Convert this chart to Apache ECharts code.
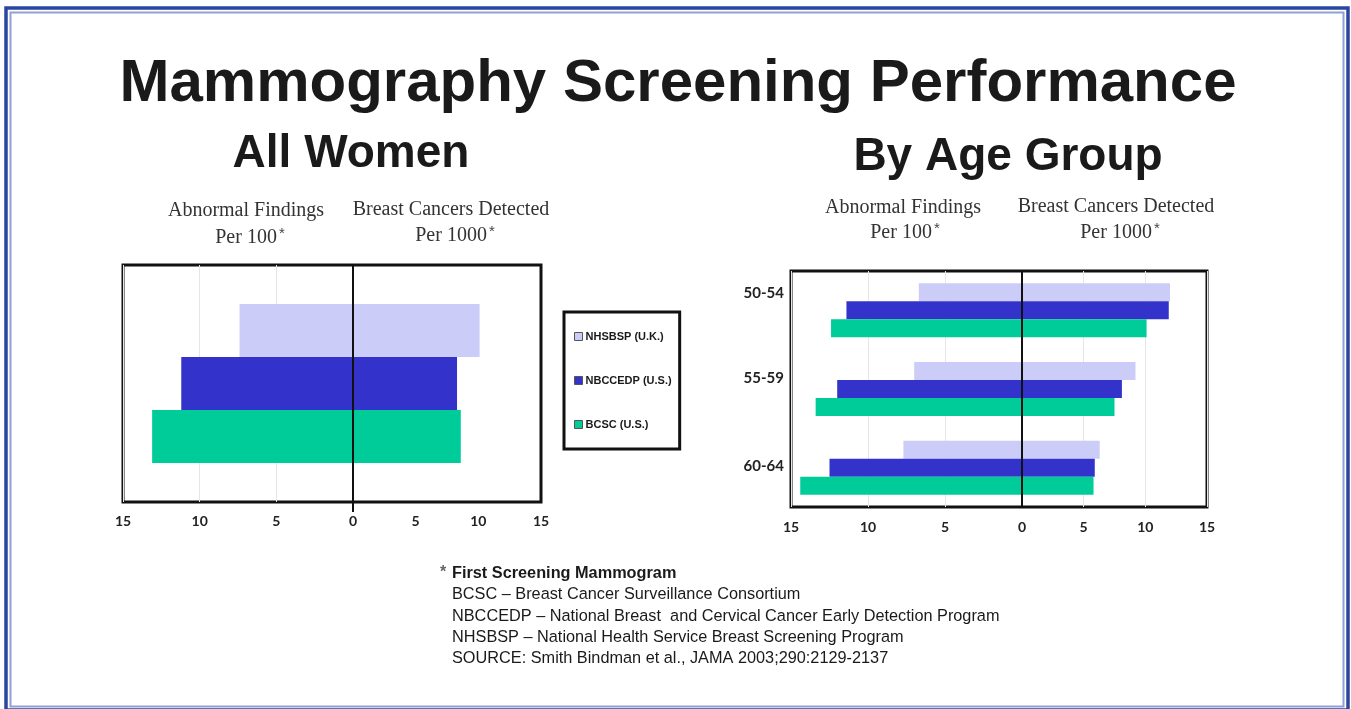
<!DOCTYPE html>
<html>
<head>
<meta charset="utf-8">
<title>Mammography Screening Performance</title>
<script src="https://cdn.jsdelivr.net/npm/echarts@6/dist/echarts.min.js"></script>
<style>
  html, body { margin: 0; padding: 0; background: #fff; }
  #main { width: 1351px; height: 709px; }
</style>
</head>
<body>
<div id="main"></div>
<script>
// data
var seriesNames = ['NHSBSP (U.K.)', 'NBCCEDP (U.S.)', 'BCSC (U.S.)'];
var seriesColors = ['#ccccf8', '#3333cc', '#00cc99'];

// All women: abnormal findings per 100 / cancers detected per 1000
var allAbnormal = [7.4, 11.2, 13.1];
var allCancers = [10.1, 8.3, 8.6];

// By age group, one array per program
var ageGroups = ['50-54', '55-59', '60-64'];
var nhsbspAbnormal = [6.7, 7.0, 7.7];
var nbccedpAbnormal = [11.4, 12.0, 12.5];
var bcscAbnormal = [12.4, 13.4, 14.4];
var nhsbspCancers = [12.0, 9.2, 6.3];
var nbccedpCancers = [11.9, 8.1, 5.9];
var bcscCancers = [10.1, 7.5, 5.8];

var axisMax = 15;
var axisStep = 5;

var footnotes = [
    'BCSC \u2013 Breast Cancer Surveillance Consortium',
    'NBCCEDP \u2013 National Breast  and Cervical Cancer Early Detection Program',
    'NHSBSP \u2013 National Health Service Breast Screening Program',
    'SOURCE: Smith Bindman et al., JAMA 2003;290:2129-2137'
];

var myChart = echarts.init(document.getElementById('main'));

var tickFont = { color: '#222', fontFamily: 'Lato', fontWeight: 'bold', fontSize: 14 };

function valueAxis(grid, inverse, hideZero, margin, zeroTick) {
    return {
        type: 'value', gridIndex: grid, min: 0, max: axisMax, interval: axisStep,
        inverse: inverse,
        axisLine: { show: false },
        axisTick: zeroTick ? { show: true, customValues: [0], length: 10, inside: false,
            lineStyle: { color: '#111', width: 2 } } : { show: false },
        splitLine: { show: true, lineStyle: { color: '#e6e6e6', width: 1 } },
        axisLabel: Object.assign({ margin: margin, formatter: function (v) {
            return (hideZero && v === 0) ? '' : String(v);
        } }, tickFont)
    };
}

function catAxis(grid, data, zeroLine, labels) {
    return {
        type: 'category', gridIndex: grid, data: data, inverse: true, z: 10,
        axisLine: zeroLine ? { show: true, lineStyle: { color: '#111', width: 2 } } : { show: false },
        axisTick: { show: false },
        axisLabel: labels ? {
            margin: 7,
            formatter: function (v, i) { return '{g' + i + '|' + v + '}'; },
            rich: {
                g0: { padding: [0, 0, 34, 0], fontFamily: 'Lato', fontWeight: 'bold', fontSize: 15, color: '#222' },
                g1: { padding: [0, 0, 22, 0], fontFamily: 'Lato', fontWeight: 'bold', fontSize: 15, color: '#222' },
                g2: { padding: [0, 0, 4, 0], fontFamily: 'Lato', fontWeight: 'bold', fontSize: 15, color: '#222' }
            }
        } : { show: false }
    };
}

function bar(idx, data, axisIdx, width) {
    return {
        type: 'bar', name: seriesNames[idx], data: data,
        xAxisIndex: axisIdx, yAxisIndex: axisIdx,
        barWidth: width, barGap: '0%',
        itemStyle: { color: seriesColors[idx] }
    };
}

var series = [];
// all women
for (var i = 0; i < 3; i++) {
    series.push(bar(i, [allAbnormal[i]], 0, 53));
    series.push(bar(i, [allCancers[i]], 1, 53));
}
// by age group
var ageAbn = [nhsbspAbnormal, nbccedpAbnormal, bcscAbnormal];
var ageCan = [nhsbspCancers, nbccedpCancers, bcscCancers];
for (var j = 0; j < 3; j++) {
    series.push(bar(j, ageAbn[j], 2, 18));
    series.push(bar(j, ageCan[j], 3, 18));
}

function header(x, y, txt) {
    return {
        type: 'text', x: x, y: y,
        style: {
            text: txt, align: 'center', verticalAlign: 'middle',
            font: '20px "Liberation Serif", "Times New Roman", serif', fill: '#333',
            rich: { s: { fontSize: 15, padding: [0, 0, 9, 2], fill: '#444',
                fontFamily: 'Liberation Sans' } }
        }
    };
}

var graphics = [
    { type: 'rect', shape: { x: 6, y: 8, width: 1342, height: 702 },
      style: { fill: null, stroke: '#2b46a0', lineWidth: 3.5 } },
    { type: 'rect', shape: { x: 10.5, y: 12.5, width: 1333, height: 694 },
      style: { fill: null, stroke: '#8fa0d6', lineWidth: 2 } },
    { type: 'text', x: 678, y: 84, style: { text: 'Mammography Screening Performance', align: 'center',
      verticalAlign: 'middle', font: 'bold 60px "Liberation Sans", Arial, sans-serif', fill: '#1a1a1a' } },
    { type: 'text', x: 351, y: 154, style: { text: 'All Women', align: 'center',
      verticalAlign: 'middle', font: 'bold 46px "Liberation Sans", Arial, sans-serif', fill: '#1a1a1a' } },
    { type: 'text', x: 1008, y: 157, style: { text: 'By Age Group', align: 'center',
      verticalAlign: 'middle', font: 'bold 46px "Liberation Sans", Arial, sans-serif', fill: '#1a1a1a' } },
    header(246, 211, 'Abnormal Findings'),
    header(250, 238, 'Per 100{s|*}'),
    header(451, 210, 'Breast Cancers Detected'),
    header(455, 236, 'Per 1000{s|*}'),
    header(903, 208, 'Abnormal Findings'),
    header(905, 233, 'Per 100{s|*}'),
    header(1116, 207, 'Breast Cancers Detected'),
    header(1120, 233, 'Per 1000{s|*}'),
    { type: 'text', x: 440, y: 573, style: { text: '*', verticalAlign: 'middle',
      font: 'bold 16px "Liberation Sans", Arial, sans-serif', fill: '#666' } },
    { type: 'text', x: 452, y: 574, style: { text: 'First Screening Mammogram', verticalAlign: 'middle',
      font: 'bold 16.3px "Liberation Sans", Arial, sans-serif', fill: '#1a1a1a' } }
];
footnotes.forEach(function (t, k) {
    graphics.push({ type: 'text', x: 452, y: 595 + k * 21.3, style: { text: t, verticalAlign: 'middle',
        font: '16.3px "Liberation Sans", Arial, sans-serif', fill: '#1a1a1a' } });
});

var option = {
    animation: false,
    legend: {
        data: seriesNames, orient: 'vertical', left: 564, top: 312,
        padding: [19, 8, 19, 10], itemGap: 33, itemWidth: 8, itemHeight: 8,
        icon: 'rect', borderColor: '#111', borderWidth: 3,
        itemStyle: { borderColor: '#555', borderWidth: 1 },
        textStyle: { fontFamily: '"Liberation Sans", Arial, sans-serif',
            fontWeight: 'bold', fontSize: 11, color: '#1a1a1a', padding: [0, 0, 0, -2] },
        selectedMode: false
    },
    grid: [
        { left: 123, top: 265, width: 230, height: 237 },
        { left: 353, top: 265, width: 188, height: 237 },
        { left: 791, top: 271, width: 231, height: 236 },
        { left: 1022, top: 271, width: 185, height: 236 },
        { left: 123, top: 265, width: 418, height: 237, show: true, borderColor: '#111', borderWidth: 3 },
        { left: 791, top: 271, width: 416, height: 236, show: true, borderColor: '#111', borderWidth: 3 }
    ],
    xAxis: [
        valueAxis(0, true, false, 12, false),
        valueAxis(1, false, true, 12, true),
        valueAxis(2, true, false, 13, false),
        valueAxis(3, false, true, 13, false),
        { type: 'value', gridIndex: 4, show: false },
        { type: 'value', gridIndex: 5, show: false }
    ],
    yAxis: [
        catAxis(0, ['All Women'], false, false),
        catAxis(1, ['All Women'], true, false),
        catAxis(2, ageGroups, false, true),
        catAxis(3, ageGroups, true, false),
        { type: 'value', gridIndex: 4, show: false },
        { type: 'value', gridIndex: 5, show: false }
    ],
    graphic: graphics,
    series: series
};

myChart.setOption(option);
</script>
</body>
</html>
